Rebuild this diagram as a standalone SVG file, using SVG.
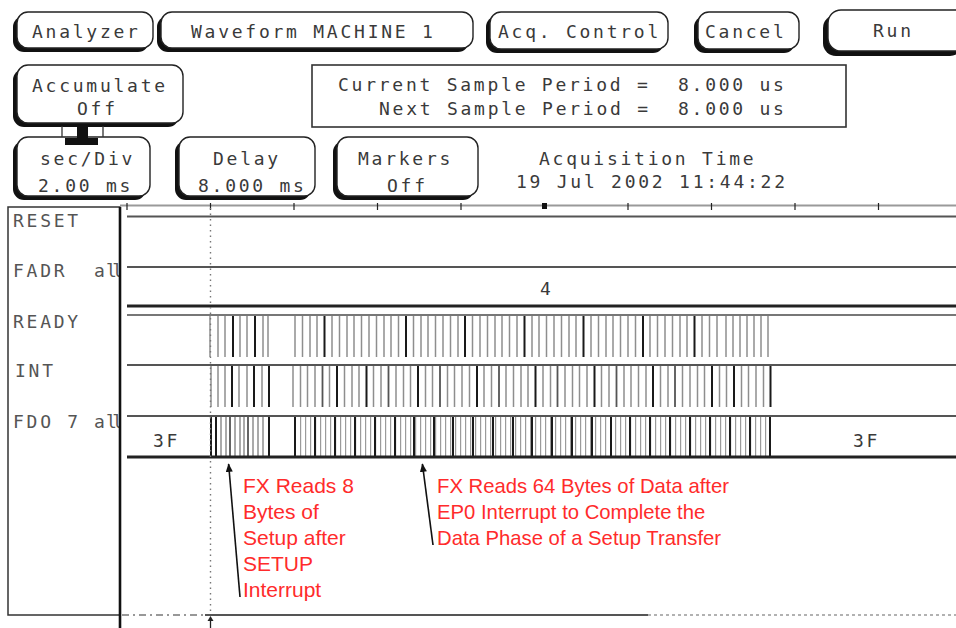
<svg xmlns="http://www.w3.org/2000/svg" width="956" height="628" viewBox="0 0 956 628">
  <defs>
    <style>
      .sh { fill: #111; }
      .btn { fill: #fff; stroke: #222; stroke-width: 1.4; }
      .lcd { font-family: "DejaVu Sans Mono", "Liberation Mono", monospace; font-size: 18px; letter-spacing: 2.75px; fill: #3a3a3a; }
      .lbl { fill: #555; }
      .note { font-family: "Liberation Sans", Arial, sans-serif; fill: #ff2b2b; }
      .sig { stroke: #555; stroke-width: 2; fill: none; }
      .rail { stroke: #222; stroke-width: 3; fill: none; }
      .pl { stroke: #8e8e8e; stroke-width: 1.5; fill: none; }
      .pm { stroke: #555; stroke-width: 1.8; fill: none; }
      .pd { stroke: #1a1a1a; stroke-width: 2; fill: none; }
      .arrow { stroke: #111; stroke-width: 1.6; fill: none; }
    </style>
    <marker id="ah" viewBox="0 0 10 8" refX="9" refY="4" markerWidth="9" markerHeight="7" markerUnits="userSpaceOnUse" orient="auto">
      <path d="M0,0L10,4L0,8z" fill="#111"/>
    </marker>
    <pattern id="fdoTicks" x="300" y="0" width="5" height="628" patternUnits="userSpaceOnUse">
      <rect x="0" y="0" width="1.2" height="628" fill="#9a9a9a"/>
    </pattern>
    <clipPath id="labelClip">
      <rect x="8" y="207" width="111" height="408"/>
    </clipPath>
  </defs>

  <rect width="956" height="628" fill="#fff"/>

  <!-- top row of soft keys -->
  <g id="btn-analyzer">
    <rect class="sh" x="13" y="16" width="136" height="36" rx="11"/>
    <rect class="btn" x="17" y="12" width="136" height="36" rx="11"/>
    <text class="lcd" x="32" y="38">Analyzer</text>
  </g>
  <g id="btn-waveform">
    <rect class="sh" x="157" y="16" width="312" height="36" rx="11"/>
    <rect class="btn" x="161" y="12" width="312" height="36" rx="11"/>
    <text class="lcd" x="191" y="38">Waveform MACHINE 1</text>
  </g>
  <g id="btn-acq">
    <rect class="sh" x="486" y="16" width="178" height="37" rx="11"/>
    <rect class="btn" x="490" y="12" width="178" height="37" rx="11"/>
    <text class="lcd" x="498" y="38">Acq. Control</text>
  </g>
  <g id="btn-cancel">
    <rect class="sh" x="694" y="16" width="101" height="37" rx="11"/>
    <rect class="btn" x="698" y="12" width="101" height="37" rx="11"/>
    <text class="lcd" x="705" y="38">Cancel</text>
  </g>
  <g id="btn-run">
    <rect class="sh" x="823" y="15" width="140" height="41" rx="13"/>
    <rect class="btn" x="828" y="10" width="140" height="41" rx="13" stroke-width="2"/>
    <text class="lcd" x="873" y="37">Run</text>
  </g>

  <!-- second row -->
  <g id="btn-accumulate">
    <rect class="sh" x="13" y="69" width="166" height="58" rx="11"/>
    <rect class="btn" x="17" y="65" width="166" height="58" rx="11"/>
    <text class="lcd" x="32" y="92">Accumulate</text>
    <text class="lcd" x="77" y="115">Off</text>
  </g>
  <g id="sample-period">
    <rect x="312" y="65" width="534" height="62" fill="none" stroke="#333" stroke-width="1.6"/>
    <text class="lcd" x="338" y="91">Current Sample Period = <tspan x="678">8.000 us</tspan></text>
    <text class="lcd" x="379" y="115">Next Sample Period = <tspan x="678">8.000 us</tspan></text>
  </g>

  <!-- third row -->
  <g id="btn-secdiv">
    <rect class="sh" x="13" y="141" width="133" height="59" rx="11"/>
    <rect class="btn" x="17" y="137" width="133" height="59" rx="11"/>
    <text class="lcd" x="40" y="165">sec/Div</text>
    <text class="lcd" x="38" y="192">2.00 ms</text>
  </g>
  <g id="btn-delay">
    <rect class="sh" x="175" y="141" width="136" height="59" rx="11"/>
    <rect class="btn" x="179" y="137" width="136" height="59" rx="11"/>
    <text class="lcd" x="213" y="165">Delay</text>
    <text class="lcd" x="198" y="192">8.000 ms</text>
  </g>
  <g id="btn-markers">
    <rect class="sh" x="333" y="141" width="141" height="59" rx="11"/>
    <rect class="btn" x="337" y="137" width="141" height="59" rx="11"/>
    <text class="lcd" x="358" y="165">Markers</text>
    <text class="lcd" x="387" y="192">Off</text>
  </g>
  <g id="acq-time">
    <text class="lcd" x="539" y="165">Acquisition Time</text>
    <text class="lcd" x="516" y="188">19 Jul 2002 11:44:22</text>
  </g>

  <!-- tab linking Accumulate to sec/Div -->
  <g id="accumulate-link">
    <path d="M62,126V137M103,126V137" stroke="#333" stroke-width="1.3" fill="none"/>
    <rect x="77" y="127" width="11" height="12" fill="#111"/>
    <rect x="65" y="138" width="33" height="7" fill="#111"/>
  </g>

  <!-- channel label column -->
  <g id="labels">
    <rect x="8" y="207" width="112" height="408" fill="none" stroke="#333" stroke-width="1.5"/>
    <g clip-path="url(#labelClip)">
      <text class="lcd lbl" x="13" y="227">RESET</text>
      <text class="lcd lbl" x="13" y="277">FADR <tspan x="94">a</tspan><tspan x="106" letter-spacing="-4.5">ll</tspan></text>
      <text class="lcd lbl" x="13" y="328">READY</text>
      <text class="lcd lbl" x="15" y="377">INT</text>
      <text class="lcd lbl" x="13" y="428">FDO 7 <tspan x="94">a</tspan><tspan x="106" letter-spacing="-4.5">ll</tspan></text>
    </g>
  </g>

  <!-- waveform display -->
  <g id="waveforms">
    <!-- time scale with division ticks -->
    <path d="M120,205.5H956" stroke="#9a9a9a" stroke-width="2"/>
    <path d="M127,203V210M210.5,203V210M294,203V210M377.5,203V210M461,203V210M628,203V210M711.5,203V210M795,203V210M878.5,203V210" stroke="#222" stroke-width="1.2"/>
    <rect x="542" y="203" width="5" height="6" fill="#111"/>

    <!-- RESET -->
    <path class="sig" d="M127,216.5H956"/>
    <!-- FADR bus -->
    <path class="sig" d="M127,267H956"/>
    <path class="rail" d="M127,306H956"/>
    <text class="lcd" x="540" y="295">4</text>
    <!-- READY -->
    <path d="M127,315H956" stroke="#777" stroke-width="2.2"/>
    <path class="pl" d="M210,316v41M218,316v41M225,316v41M240,316v41M247,316v41M263,316v41M268,316v41
      M295,316v41M302.5,316v41M310,316v41M317,316v41M332,316v41M339.5,316v41M347,316v41M354,316v41M361.5,316v41M369,316v41M376.5,316v41M384,316v41M391,316v41M398.5,316v41
      M413.5,316v41M421,316v41M428,316v41M435.5,316v41M443,316v41M450.5,316v41M458,316v41M472.5,316v41M480,316v41M487.5,316v41M495,316v41M502,316v41M509.5,316v41M517,316v41
      M532,316v41M539,316v41M546.5,316v41M554,316v41M561.5,316v41M569,316v41M576,316v41M591,316v41M598.5,316v41M606,316v41M613,316v41M620.5,316v41M628,316v41M635.5,316v41
      M650,316v41M657.5,316v41M665,316v41M672.5,316v41M680,316v41M687,316v41M702,316v41M709.5,316v41M717,316v41M726,316v41M733,316v41M740,316v41M747,316v41M754,316v41M761,316v41M768,316v41"/>
    <path class="pd" d="M233,316v41M255,316v41M324.5,316v41M406,316v41M465,316v41M524.5,316v41M583.5,316v41M643,316v41M694.5,316v41"/>

    <!-- INT -->
    <path class="sig" d="M127,365H956"/>
    <path class="pl" d="M211,366v41M218,366v41M225,366v41M239,366v41M247,366v41M262,366v41
      M293,366v41M300.5,366v41M307.5,366v41M315,366v41M329.5,366v41M344.5,366v41M352,366v41M359,366v41M373.5,366v41M381,366v41M396,366v41M403.5,366v41M410.5,366v41
      M425.5,366v41M432.5,366v41M447.5,366v41M454.5,366v41M462,366v41M469.5,366v41M484,366v41M491.5,366v41M506,366v41M513.5,366v41M521,366v41M528,366v41
      M543,366v41M550.5,366v41M565,366v41M572.5,366v41M579.5,366v41M587,366v41M601.5,366v41M609,366v41M624,366v41M631,366v41M638.5,366v41M646,366v41
      M660.5,366v41M668,366v41M682.5,366v41M690,366v41M697.5,366v41M704.5,366v41M719.5,366v41M726.5,366v41M741.5,366v41M748.5,366v41M756,366v41M763.5,366v41"/>
    <path class="pm" d="M322.5,366v41M388.5,366v41M440,366v41M499,366v41M557.5,366v41M616.5,366v41M675,366v41"/>
    <path class="pd" d="M232,366v41M254,366v41M269,366v41M337,366v41M366.5,366v41M418,366v41M477,366v41M535.5,366v41M594.5,366v41M653,366v41M712,366v41M734,366v41M770.5,366v41"/>

    <!-- FDO 7 bus -->
    <path class="sig" d="M127,416H956"/>
    <rect x="298" y="417" width="471" height="39" fill="url(#fdoTicks)"/>
    <path class="pl" d="M221,417v39M226,417v39M235,417v39M240,417v39M244,417v39M253,417v39M258,417v39M263,417v39"/>
    <path class="pm" d="M230,417v39M248,417v39"/>
    <path class="pd" d="M211,417v39M216,417v39M269,417v39
      M295,417v39M315,417v39M335,417v39M355,417v39M375,417v39M395,417v39M414,417v39M434,417v39M453,417v39M473,417v39M493,417v39M513,417v39M532,417v39
      M552,417v39M572,417v39M592,417v39M611,417v39M630,417v39M650,417v39M670,417v39M690,417v39M710,417v39M730,417v39M750,417v39M770,417v39"/>
    <path class="rail" d="M127,457H956"/>
    <text class="lcd" x="153" y="447">3F</text>
    <text class="lcd" x="853" y="447">3F</text>

    <!-- cursor -->
    <path d="M210.5,208V612" stroke="#777" stroke-width="1.4" stroke-dasharray="1.5 4"/>

    <!-- bottom edge of the display -->
    <path d="M122,615H205" stroke="#777" stroke-width="1.6" stroke-dasharray="7 4 2 4"/>
    <path d="M205,615H648" stroke="#555" stroke-width="2"/>
    <path d="M648,615H956" stroke="#999" stroke-width="1.6" stroke-dasharray="3 3"/>
    <path d="M210.5,628V619" stroke="#222" stroke-width="1.3"/>
    <path d="M207.5,621L210.5,616L213.5,621z" fill="#222"/>

    <!-- separator between labels and traces -->
    <path d="M120,207V628" stroke="#111" stroke-width="2.6"/>
  </g>

  <!-- notes -->
  <g id="note-setup">
    <text class="note" font-size="21" x="243">
      <tspan x="243" y="493">FX Reads 8</tspan>
      <tspan x="243" y="519">Bytes of</tspan>
      <tspan x="243" y="545">Setup after</tspan>
      <tspan x="243" y="571">SETUP</tspan>
      <tspan x="243" y="597">Interrupt</tspan>
    </text>
  </g>
  <g id="note-data">
    <text class="note" font-size="20.3" x="437">
      <tspan x="437" y="493">FX Reads 64 Bytes of Data after</tspan>
      <tspan x="437" y="519">EP0 Interrupt to Complete the</tspan>
      <tspan x="437" y="545">Data Phase of a Setup Transfer</tspan>
    </text>
  </g>

  <g id="connectors">
    <path class="arrow" d="M240,597L228.6,464" marker-end="url(#ah)"/>
    <path class="arrow" d="M433,545L422.4,464" marker-end="url(#ah)"/>
  </g>
</svg>
